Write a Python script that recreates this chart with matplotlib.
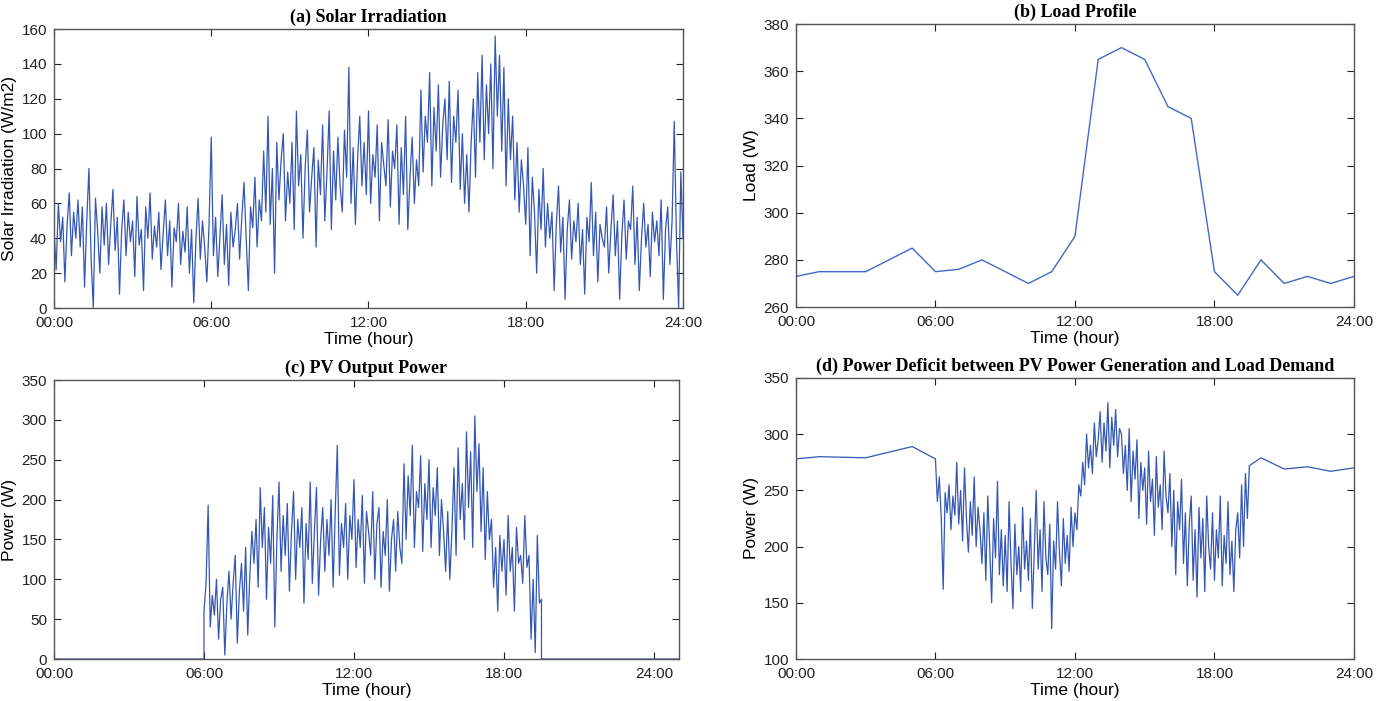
import numpy as np
import matplotlib
matplotlib.use('Agg')
import matplotlib.pyplot as plt

plt.rcParams['font.family'] = ['Liberation Sans', 'DejaVu Sans']

# (a) solar irradiation, one reading every 5 minutes, 00:00 - 24:00
irradiation = [
    45, 22, 60, 38, 52, 15, 48, 66, 30, 55, 40, 62,
    35, 58, 12, 50, 80, 28, 0, 63, 44, 20, 58, 36,
    60, 25, 48, 68, 33, 52, 8, 45, 62, 30, 55, 38,
    50, 18, 64, 36, 45, 10, 58, 40, 66, 28, 47, 35,
    55, 22, 43, 62, 30, 50, 12, 46, 38, 60, 25, 44,
    32, 58, 20, 45, 3, 40, 63, 28, 50, 35, 15, 48,
    98, 30, 52, 18, 42, 65, 25, 48, 13, 55, 35, 45,
    60, 28, 52, 72, 40, 10, 58, 46, 75, 35, 62, 50,
    90, 55, 110, 48, 80, 20, 95, 62, 85, 100, 50, 78,
    60, 95, 45, 113, 70, 88, 40, 80, 102, 55, 75, 92,
    35, 85, 65, 105, 50, 78, 113, 45, 90, 62, 98, 70,
    55, 102, 75, 138, 60, 92, 48, 85, 110, 70, 95, 65,
    113, 60, 88, 75, 105, 50, 95, 82, 70, 108, 58, 90,
    80, 105, 48, 92, 65, 110, 45, 75, 98, 60, 85, 70,
    125, 78, 110, 95, 135, 70, 115, 90, 128, 75, 105, 120,
    85, 130, 72, 110, 95, 125, 68, 100, 60, 88, 55, 95,
    120, 75, 135, 95, 145, 85, 128, 100, 140, 80, 156, 110,
    145, 90, 138, 70, 120, 85, 110, 62, 95, 55, 85, 70,
    48, 92, 30, 75, 55, 20, 68, 45, 80, 35, 60, 40,
    55, 10, 48, 70, 32, 52, 5, 45, 62, 28, 50, 38,
    60, 25, 45, 8, 52, 38, 72, 30, 55, 15, 48, 40,
    35, 58, 20, 45, 65, 30, 50, 5, 42, 62, 28, 50,
    45, 70, 25, 52, 10, 40, 60, 35, 48, 18, 55, 38,
    50, 30, 62, 5, 45, 58, 25, 50, 107, 40, 0, 78,
    40,
]

# (b) hourly load
load_hours = list(range(25))
load = [273, 275, 275, 275, 280, 285, 275, 276, 280, 275, 270, 275, 290,
        365, 370, 365, 345, 340, 275, 265, 280, 270, 273, 270, 273]

# (c) PV power during daylight, every 5 minutes from 06:00 to 19:30
pv_day = [
    60, 95, 193, 40, 80, 55, 100, 25, 75, 90, 5, 70,
    110, 50, 95, 130, 20, 85, 120, 60, 140, 30, 105, 160,
    120, 175, 90, 215, 140, 190, 75, 165, 120, 205, 40, 150,
    222, 110, 180, 130, 195, 85, 160, 210, 100, 175, 140, 190,
    70, 170, 125, 222, 95, 160, 215, 80, 150, 190, 110, 175,
    130, 200, 90, 185, 268, 105, 170, 140, 195, 100, 180, 150,
    225, 115, 175, 140, 205, 95, 185, 160, 130, 210, 100, 170,
    190, 90, 160, 130, 200, 85, 150, 175, 110, 185, 140, 120,
    245, 150, 230, 180, 268, 140, 210, 190, 255, 135, 220, 175,
    250, 140, 215, 180, 240, 130, 200, 160, 110, 185, 100, 160,
    240, 130, 265, 175, 220, 150, 285, 190, 260, 140, 305, 210,
    270, 160, 240, 125, 210, 150, 175, 90, 140, 60, 155, 110,
    150, 80, 180, 110, 140, 60, 165, 120, 130, 95, 180, 115,
    130, 25, 100, 8, 155, 70, 75,
]

# (d) power deficit: hourly at night, every 5 minutes 06:05 - 19:25
deficit_night_am = [278, 280, 279.5, 279, 284, 289, 278]
deficit_day = [
    240, 262, 225, 162, 248, 230, 255, 215, 245, 228, 275,
    220, 250, 205, 270, 225, 195, 240, 210, 262, 200, 235, 215,
    185, 230, 170, 245, 200, 150, 225, 190, 258, 175, 215, 165,
    210, 160, 240, 185, 145, 220, 175, 200, 160, 235, 180, 205,
    170, 225, 145, 195, 250, 180, 215, 160, 240, 190, 175, 220,
    127, 205, 180, 240, 195, 165, 225, 185, 210, 178, 235, 200,
    230, 215, 255, 245, 275, 255, 300, 270, 290, 265, 310, 280,
    295, 320, 275, 310, 285, 328, 270, 315, 290, 322, 280, 305,
    300, 265, 290, 250, 305, 240, 285, 260, 295, 225, 275, 250,
    270, 220, 285, 240, 260, 210, 280, 235, 255, 215, 285, 245,
    230, 265, 200, 250, 175, 240, 215, 260, 185, 230, 165, 220,
    245, 170, 215, 155, 235, 190, 225, 160, 245, 200, 180, 230,
    170, 215, 190, 245, 165, 210, 185, 240, 175, 205, 160, 215,
    230, 190, 255, 200, 265, 225,
]
deficit_night_pm_hours = [19.5, 20, 21, 22, 23, 24]
deficit_night_pm = [272, 279, 269, 271, 267, 270]

tick_hours = [0, 6, 12, 18, 24]
tick_names = ['00:00', '06:00', '12:00', '18:00', '24:00']

blue = '#3457b4'
fig = plt.figure(figsize=(13.84, 7.01), dpi=100)


def style(ax, title, ylabel, xmax=24):
    ax.set_xlim(0, xmax)
    ax.set_xticks(tick_hours)
    ax.set_xticklabels(tick_names)
    ax.tick_params(direction='in', top=True, right=True, length=5,
                   labelsize=11, colors='#222222')
    ax.tick_params(axis='x', pad=6)
    ax.tick_params(axis='y', pad=5)
    for s in ax.spines.values():
        s.set_color('#555555')
        s.set_linewidth(1.0)
    ax.set_title(title, fontsize=13, fontweight='bold',
                 family='Liberation Serif', pad=5)
    ax.set_ylabel(ylabel, fontsize=12.5, labelpad=3)
    ax.set_xlabel('Time (hour)', fontsize=12.5, labelpad=1)


ax1 = fig.add_axes([0.039, 0.5606, 0.4545, 0.398])
t_a = np.arange(len(irradiation)) / 12
ax1.plot(t_a, irradiation, color=blue, lw=0.9)
ax1.set_ylim(0, 160)
ax1.set_yticks(range(0, 161, 20))
style(ax1, '(a) Solar Irradiation', 'Solar Irradiation (W/m2)')

ax2 = fig.add_axes([0.5751, 0.562, 0.4032, 0.4037])
ax2.plot(load_hours, load, color='#4169c8', lw=1.0)
ax2.set_ylim(260, 380)
ax2.set_yticks(range(260, 381, 20))
style(ax2, '(b) Load Profile', 'Load (W)')

ax3 = fig.add_axes([0.039, 0.0599, 0.4516, 0.398])
t_day = 6 + np.arange(len(pv_day)) / 12
t_pv = np.concatenate([[0, 6], t_day, [19.5, 25]])
pv = np.concatenate([[0, 0], pv_day, [0, 0]])
ax3.plot(t_pv, pv, color=blue, lw=0.9)
ax3.set_ylim(0, 350)
ax3.set_yticks(range(0, 351, 50))
style(ax3, '(c) PV Output Power', 'Power (W)', xmax=25)

ax4 = fig.add_axes([0.5751, 0.0599, 0.4032, 0.4009])
t_d = np.concatenate([np.arange(7), 6 + np.arange(1, len(deficit_day) + 1) / 12,
                      deficit_night_pm_hours])
deficit = np.concatenate([deficit_night_am, deficit_day, deficit_night_pm])
ax4.plot(t_d, deficit, color=blue, lw=0.9)
ax4.set_ylim(100, 350)
ax4.set_yticks(range(100, 351, 50))
style(ax4, '(d) Power Deficit between PV Power Generation and Load Demand',
      'Power (W)')

plt.savefig('out.png', dpi=100)
